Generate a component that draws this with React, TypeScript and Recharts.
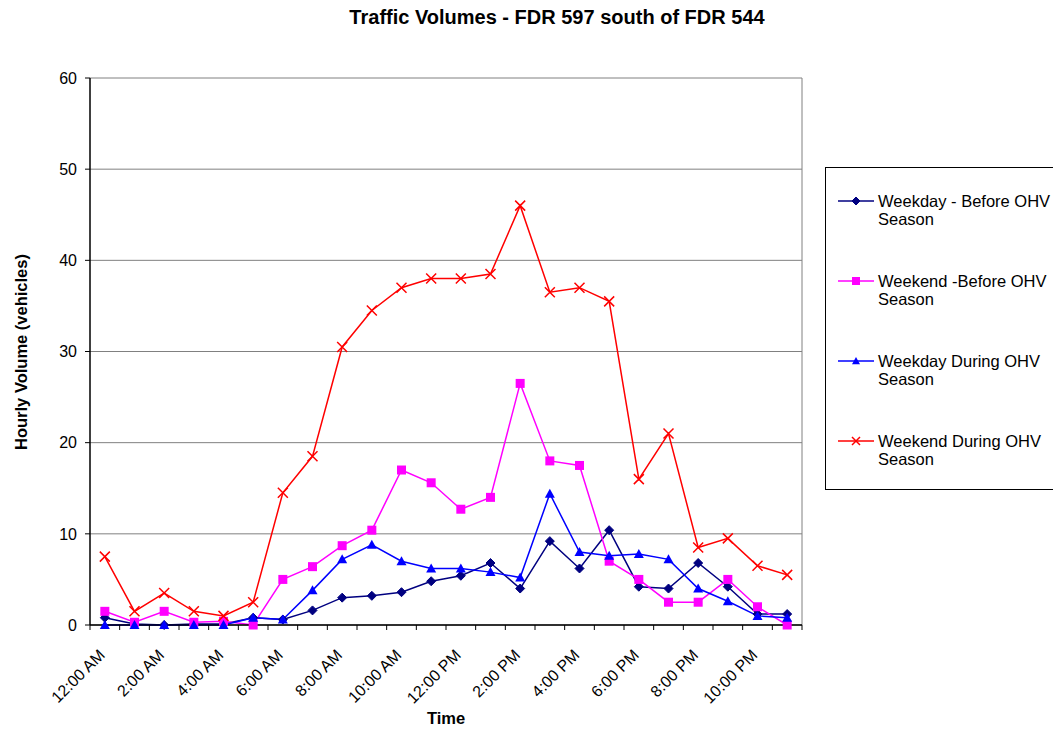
import React from 'react';
import { LineChart, Line, XAxis, YAxis, CartesianGrid, ReferenceLine } from 'recharts';

const hours = [
  '12:00 AM', '1:00 AM', '2:00 AM', '3:00 AM', '4:00 AM', '5:00 AM',
  '6:00 AM', '7:00 AM', '8:00 AM', '9:00 AM', '10:00 AM', '11:00 AM',
  '12:00 PM', '1:00 PM', '2:00 PM', '3:00 PM', '4:00 PM', '5:00 PM',
  '6:00 PM', '7:00 PM', '8:00 PM', '9:00 PM', '10:00 PM', '11:00 PM',
];

const weekdayBefore = [0.8, 0.1, 0, 0.1, 0.1, 0.8, 0.6, 1.6, 3, 3.2, 3.6, 4.8, 5.4, 6.8, 4, 9.2, 6.2, 10.4, 4.2, 4, 6.8, 4.2, 1.2, 1.2];
const weekendBefore = [1.5, 0.3, 1.5, 0.3, 0.4, 0, 5, 6.4, 8.7, 10.4, 17, 15.6, 12.7, 14, 26.5, 18, 17.5, 7, 5, 2.5, 2.5, 5, 2, 0];
const weekdayDuring = [0, 0, 0, 0, 0, 0.8, 0.6, 3.8, 7.2, 8.8, 7, 6.2, 6.2, 5.8, 5.2, 14.4, 8, 7.6, 7.8, 7.2, 4, 2.6, 1, 0.8];
const weekendDuring = [7.5, 1.5, 3.5, 1.5, 1, 2.5, 14.5, 18.5, 30.5, 34.5, 37, 38, 38, 38.5, 46, 36.5, 37, 35.5, 16, 21, 8.5, 9.5, 6.5, 5.5];

const yTicks = [0, 10, 20, 30, 40, 50, 60];

const data = hours.map((h, i) => ({
  x: i + 0.5,
  hour: h,
  weekdayBefore: weekdayBefore[i],
  weekendBefore: weekendBefore[i],
  weekdayDuring: weekdayDuring[i],
  weekendDuring: weekendDuring[i],
}));

// tick marks on hour boundaries, labels on every other hour centre
const xTicks: number[] = [];
for (let k = 0; k <= 48; k++) xTicks.push(k / 2);

const FONT = '"Liberation Sans", Arial, sans-serif';

const Diamond = ({ cx, cy, fill = '#000080', s = 4.5 }: any) => (
  <path d={`M${cx},${cy - s}L${cx + s},${cy}L${cx},${cy + s}L${cx - s},${cy}Z`} fill={fill} stroke={fill} />
);
const Square = ({ cx, cy, fill = '#FF00FF', s = 4.5 }: any) => (
  <rect x={cx - s} y={cy - s} width={s * 2} height={s * 2} fill={fill} />
);
const Triangle = ({ cx, cy, fill = '#0000FF', s = 5 }: any) => (
  <path d={`M${cx},${cy - s}L${cx + s},${cy + s * 0.8}L${cx - s},${cy + s * 0.8}Z`} fill={fill} />
);
const Cross = ({ cx, cy, fill = '#FF0000', s = 5 }: any) => (
  <path d={`M${cx - s},${cy - s}L${cx + s},${cy + s}M${cx + s},${cy - s}L${cx - s},${cy + s}`} stroke={fill} strokeWidth={1.5} fill="none" />
);

const series = [
  { key: 'weekdayBefore', name: 'Weekday - Before OHV Season', color: '#000080', Marker: Diamond },
  { key: 'weekendBefore', name: 'Weekend -Before OHV Season', color: '#FF00FF', Marker: Square },
  { key: 'weekdayDuring', name: 'Weekday During OHV Season', color: '#0000FF', Marker: Triangle },
  { key: 'weekendDuring', name: 'Weekend During OHV Season', color: '#FF0000', Marker: Cross },
];

const HourTick = (props: any) => {
  const { x, y, payload } = props;
  const v = payload.value;
  if (Number.isInteger(v)) {
    return <line x1={x} y1={y} x2={x} y2={y + 5} stroke="#000" />;
  }
  const idx = v - 0.5;
  if (idx % 2 !== 0) return null;
  const ax = x + 1;
  const ay = y + 31;
  return (
    <text x={ax} y={ay} textAnchor="end" fontSize={16} fontFamily={FONT} fill="#000" transform={`rotate(-45, ${ax}, ${ay})`}>
      {hours[idx]}
    </text>
  );
};

export default function App() {
  return (
    <div style={{ position: 'absolute', left: 0, top: 0, width: 1053, height: 732, overflow: 'hidden', background: '#fff', fontFamily: FONT }}>
      <div style={{ position: 'absolute', left: 0, width: 1114, top: 6, textAlign: 'center', fontWeight: 'bold', fontSize: 20 }}>
        Traffic Volumes - FDR 597 south of FDR 544
      </div>
      <div style={{ position: 'absolute', left: 21, top: 352, transform: 'translate(-50%, -50%) rotate(-90deg)', whiteSpace: 'nowrap', fontWeight: 'bold', fontSize: 16.5 }}>
        Hourly Volume (vehicles)
      </div>
      <div style={{ position: 'absolute', left: 446, top: 709, transform: 'translateX(-50%)', fontWeight: 'bold', fontSize: 16.5 }}>
        Time
      </div>
      <LineChart width={1053} height={732} data={data} margin={{ top: 78, right: 251, bottom: 0, left: 0 }}>
        <CartesianGrid vertical={false} stroke="#808080" strokeWidth={1} />
        <XAxis
          type="number"
          dataKey="x"
          domain={[0, 24]}
          ticks={xTicks}
          interval={0}
          tickLine={false}
          tickSize={0}
          tickMargin={0}
          tick={<HourTick />}
          axisLine={{ stroke: '#000', strokeWidth: 1.5 }}
          height={107}
        />
        <YAxis
          domain={[0, 60]}
          ticks={yTicks}
          interval={0}
          width={90}
          tickSize={5}
          tickMargin={8}
          tickLine={{ stroke: '#000' }}
          axisLine={{ stroke: '#000', strokeWidth: 1.5 }}
          tick={{ fill: '#000', fontSize: 16, fontFamily: FONT }}
        />
        <ReferenceLine x={24} stroke="#808080" />
        {series.map(({ key, name, color, Marker }) => (
          <Line
            key={key}
            type="linear"
            dataKey={key}
            name={name}
            stroke={color}
            strokeWidth={1.5}
            dot={(p: any) => <Marker key={`${key}-${p.index}`} cx={p.cx} cy={p.cy} fill={color} />}
            activeDot={false}
            isAnimationActive={false}
          />
        ))}
      </LineChart>
      <div style={{ position: 'absolute', left: 825, top: 167, width: 240, height: 323, border: '1px solid #000', boxSizing: 'border-box' }}>
        {series.map(({ key, name, color, Marker }, i) => (
          <div key={key} style={{ position: 'absolute', left: 12, top: 24 + i * 80, display: 'flex', alignItems: 'flex-start' }}>
            <svg width={36} height={18} style={{ flex: 'none' }}>
              <line x1={0} y1={9} x2={36} y2={9} stroke={color} strokeWidth={1.5} />
              <Marker cx={18} cy={9} fill={color} s={4} />
            </svg>
            <div style={{ width: 180, marginLeft: 4, fontSize: 16.5, lineHeight: '18px', color: '#000' }}>{name}</div>
          </div>
        ))}
      </div>
    </div>
  );
}
